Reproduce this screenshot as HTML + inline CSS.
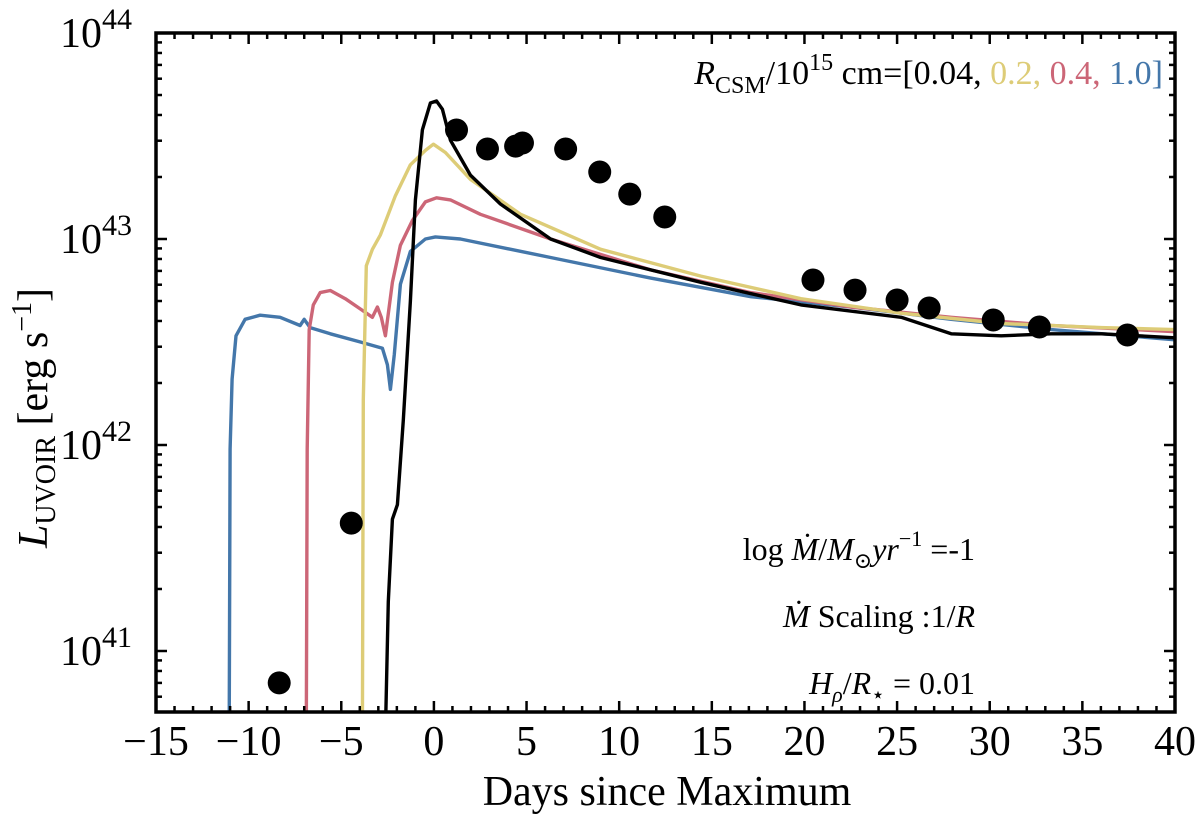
<!DOCTYPE html>
<html><head><meta charset="utf-8"><style>
html,body{margin:0;padding:0;background:#fff;}
svg{display:block;font-family:"Liberation Serif","DejaVu Serif",serif;}
</style></head><body>
<svg id="chart" width="1200" height="821" viewBox="0 0 1200 821">
<defs><clipPath id="clip"><rect x="156" y="33" width="1019" height="679"/></clipPath></defs>
<g id="curves" clip-path="url(#clip)"></g>
<g id="dots" clip-path="url(#clip)"></g>
<g id="axes"></g>
<text x="667" y="805" font-size="42" text-anchor="middle">Days since Maximum</text>
<text transform="translate(47,418) rotate(-90)" font-size="42" text-anchor="middle"><tspan font-style="italic">L</tspan><tspan font-size="28" dy="8">UVOIR</tspan><tspan dy="-8"> [erg s</tspan><tspan font-size="28" dy="-16">−1</tspan><tspan dy="16">]</tspan></text>
<text x="1163" y="84" font-size="34" text-anchor="end"><tspan font-style="italic">R</tspan><tspan font-size="24" dy="9">CSM</tspan><tspan dy="-9">/10</tspan><tspan font-size="24" dy="-14">15</tspan><tspan dy="14"> cm=[0.04, </tspan><tspan fill="#ddcc77">0.2, </tspan><tspan fill="#cc6677">0.4, </tspan><tspan fill="#4477aa">1.0]</tspan></text>
<text x="975" y="560" font-size="32" text-anchor="end">log <tspan font-style="italic">Ṁ</tspan>/<tspan font-style="italic">M</tspan><tspan font-size="22" dy="8">⊙</tspan><tspan font-style="italic" dy="-8">yr</tspan><tspan font-size="22" dy="-14">−1</tspan><tspan dy="14"> =-1</tspan></text>
<text x="975" y="627" font-size="32" text-anchor="end"><tspan font-style="italic">Ṁ</tspan> Scaling :1/<tspan font-style="italic">R</tspan></text>
<text x="975" y="694" font-size="32" text-anchor="end"><tspan font-style="italic">H</tspan><tspan font-size="22" dy="8" font-style="italic">ρ</tspan><tspan dy="-8">/</tspan><tspan font-style="italic">R</tspan><tspan font-size="22" dy="8">⋆</tspan><tspan dy="-8"> = 0.01</tspan></text>
</svg>
<script>
const obsDays=[-8.35,-4.46,1.22,2.89,4.41,4.78,7.11,8.95,10.57,12.46,20.46,22.73,25.0,26.73,30.19,32.68,37.43];
const obsLogL=[40.845,41.621,43.529,43.437,43.451,43.466,43.437,43.325,43.218,43.107,42.801,42.752,42.704,42.665,42.607,42.573,42.534];
const blackDays=[-2.62,-2.46,-2.24,-1.97,-1.65,-1.27,-1.0,-0.62,-0.19,0.14,0.46,0.89,1.97,3.59,6.30,9.0,14.41,19.81,25.22,27.92,30.62,33.32,36.03,40.08];
const blackLogL=[40.6,41.24,41.64,41.71,42.12,42.70,43.19,43.53,43.66,43.67,43.63,43.48,43.31,43.17,43.00,42.91,42.79,42.68,42.62,42.54,42.53,42.54,42.54,42.52];
const yellowDays=[-3.86,-3.81,-3.65,-3.32,-2.89,-2.08,-1.27,-0.46,-0.03,0.62,1.97,4.68,9.0,14.41,19.81,25.22,30.62,36.03,40.08];
const yellowLogL=[40.6,42.22,42.87,42.95,43.02,43.21,43.36,43.43,43.46,43.42,43.29,43.12,42.95,42.82,42.71,42.64,42.59,42.57,42.56];
const redDays=[-6.89,-6.84,-6.73,-6.51,-6.14,-5.59,-4.78,-3.97,-3.32,-3.05,-2.84,-2.62,-2.24,-1.81,-1.16,-0.46,0.14,0.89,2.51,6.30,11.70,17.11,22.51,27.92,33.32,40.08];
const redLogL=[40.6,41.98,42.56,42.68,42.74,42.75,42.71,42.66,42.62,42.67,42.62,42.53,42.79,42.97,43.09,43.18,43.20,43.19,43.12,43.0,42.85,42.74,42.67,42.62,42.58,42.55];
const blueDays=[-11.05,-11.0,-10.89,-10.68,-10.19,-9.38,-8.30,-7.22,-7.0,-6.68,-5.59,-3.97,-2.78,-2.51,-2.35,-2.14,-1.81,-1.27,-0.46,0.08,1.43,6.30,11.70,17.11,22.51,27.92,33.32,40.08];
const blueLogL=[40.6,41.98,42.32,42.53,42.61,42.63,42.62,42.58,42.61,42.57,42.54,42.50,42.47,42.39,42.27,42.44,42.78,42.94,43.0,43.01,43.0,42.91,42.81,42.72,42.67,42.61,42.56,42.51];
const xTicks=[-15,-10,-5,0,5,10,15,20,25,30,35,40];
const yDecades=[41,42,43,44];

const X0=156,X1=1175,Y0=33,Y1=712,XMIN=-15,XMAX=40,YMAX=44,DEC=206;
const sx=d=>X0+(d-XMIN)*(X1-X0)/(XMAX-XMIN);
const sy=l=>Y0+(YMAX-l)*DEC;
const YMIN=YMAX-(Y1-Y0)/DEC;
const NS="http://www.w3.org/2000/svg";
function mk(tag,attrs,parent){const e=document.createElementNS(NS,tag);for(const k in attrs)e.setAttribute(k,attrs[k]);parent.appendChild(e);return e;}

const curves=document.getElementById('curves');
[[blueDays,blueLogL,'#4477aa','curve-r-1.0'],[redDays,redLogL,'#cc6677','curve-r-0.4'],[yellowDays,yellowLogL,'#ddcc77','curve-r-0.2'],[blackDays,blackLogL,'#000','curve-r-0.04']].forEach(([d,l,c,n])=>{
  const p=mk('path',{d:d.map((v,i)=>(i?'L':'M')+sx(v).toFixed(1)+','+sy(l[i]).toFixed(1)).join(''),fill:'none',stroke:c,'stroke-width':3.4,'stroke-linejoin':'round'},curves);
  
  
});
const dots=document.getElementById('dots');
obsDays.forEach((d,i)=>{
  const c=mk('circle',{cx:sx(d),cy:sy(obsLogL[i]),r:11.5,fill:'#000'},dots);
  
  
});
const ax=document.getElementById('axes');
const frame=mk('rect',{x:X0,y:Y0,width:X1-X0,height:Y1-Y0,fill:'none',stroke:'#000','stroke-width':3.5},ax);


for(let d=XMIN;d<=XMAX;d++){
  const major=d%5===0,L=major?11:6,x=sx(d);
  mk('line',{x1:x,x2:x,y1:Y1,y2:Y1-L,stroke:'#000','stroke-width':2.5},ax);
  mk('line',{x1:x,x2:x,y1:Y0,y2:Y0+L,stroke:'#000','stroke-width':2.5},ax);
}
xTicks.forEach(t=>{
  const tx=mk('text',{x:sx(t),y:755,'font-size':42,'text-anchor':'middle'},ax);
  tx.textContent=t<0?'−'+(-t):String(t);
  
  
});
for(let dec=40;dec<=43;dec++){
  for(let m=1;m<=9;m++){
    const l=dec+Math.log10(m);
    if(l<YMIN||l>YMAX)continue;
    const y=sy(l),L=m===1?11:6;
    mk('line',{x1:X0,x2:X0+L,y1:y,y2:y,stroke:'#000','stroke-width':2.5},ax);
    mk('line',{x1:X1,x2:X1-L,y1:y,y2:y,stroke:'#000','stroke-width':2.5},ax);
  }
}
yDecades.forEach(dc=>{
  const t=mk('text',{x:132,y:sy(dc)+14,'font-size':42,'text-anchor':'end'},ax);
  t.textContent='10';
  const s=mk('tspan',{'font-size':30,dy:-18},t);
  s.textContent=String(dc);
  
  
});
</script>
</body></html>
